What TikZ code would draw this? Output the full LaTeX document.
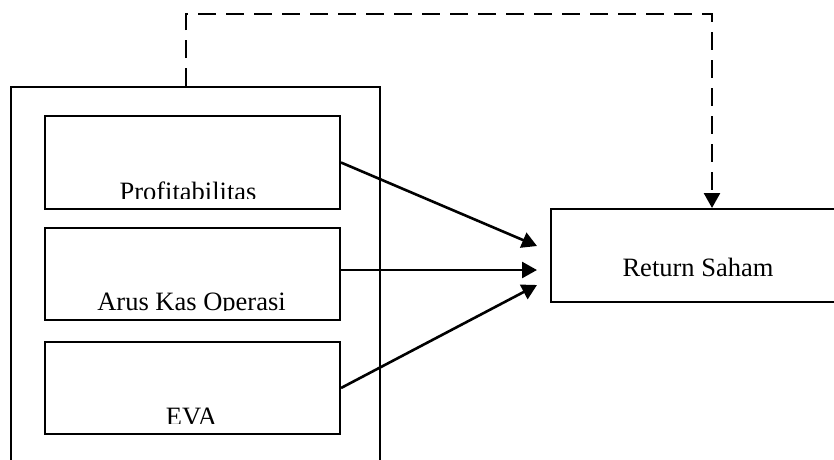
\documentclass[tikz,border=0pt]{standalone}
\usepackage{fontspec}
\setmainfont{Liberation Serif}
\usetikzlibrary{arrows.meta,calc}
\begin{document}
\begin{tikzpicture}[x=1pt,y=-1pt,line width=2pt,
  box/.style={draw,rectangle,inner sep=0pt},
  lbl/.style={inner sep=0pt,font=\fontsize{26.5}{30}\selectfont},
  arr/.style={line width=2.6pt,-{Triangle[length=15pt,width=16pt]}},
  dsh/.style={line width=2.6pt,dash pattern=on 18pt off 10pt,-{Triangle[length=15pt,width=16pt]}}]
\useasboundingbox (0,0) rectangle (834,459);
\clip (0,0) rectangle (834,459);
\fill[white] (0,0) rectangle (834,459);
% outer container
\node[box,minimum width=369pt,minimum height=393pt] (outer) at (195.5,283.5) {};
% inner boxes
\node[box,minimum width=295pt,minimum height=93pt] (p) at (192.5,162.5) {};
\node[box,minimum width=295pt,minimum height=92pt] (a) at (192.5,274) {};
\node[box,minimum width=295pt,minimum height=92pt] (e) at (192.5,388) {};
\node[box,minimum width=289pt,minimum height=93pt] (rs) at (695.5,255.5) {};
% labels (clipped like overflowing text boxes)
\begin{scope}
\clip (45,116) rectangle (340,198);
\node[lbl,anchor=base] (pl) at (188,200.5) {Profitabilitas};
\end{scope}
\begin{scope}
\clip (45,228) rectangle (340,310);
\node[lbl,anchor=base] (al) at (191.5,310.5) {Arus Kas Operasi};
\end{scope}
\begin{scope}
\clip (45,342) rectangle (340,423);
\node[lbl,anchor=base] (el) at (191.5,425.5) {EVA};
\end{scope}
\node[lbl,anchor=base] (rl) at (698,276) {Return Saham};
% arrows
\coordinate (t1) at (537,246);
\coordinate (t2) at (537,270);
\coordinate (t3) at (537,285);
\draw[arr] (p.east) -- (t1);
\draw[arr] (a.east |- t2) -- (t2);
\draw[arr] (e.east) -- (t3);
% dashed moderating path
\coordinate (top) at (712,14);
\draw[dsh] ([xshift=-9.5pt]outer.north) |- (top) -- (rs.north -| top);
\end{tikzpicture}
\end{document}
